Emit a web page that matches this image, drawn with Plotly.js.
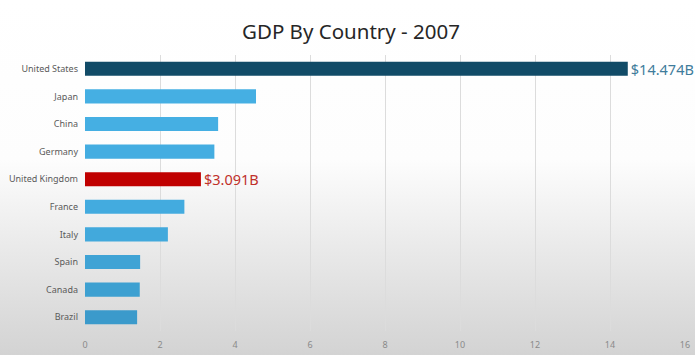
<!DOCTYPE html>
<html>
<head>
<meta charset="utf-8">
<script src="https://cdn.plot.ly/plotly-3.0.1.min.js"></script>
<style>
html,body{margin:0;padding:0;width:695px;height:355px;overflow:hidden;}
body{background:linear-gradient(to bottom,#ffffff 0%,#fdfdfd 45%,#e8e8e8 72%,#d3d3d3 100%);}
#chart{width:695px;height:355px;}
</style>
</head>
<body>
<div id="chart"></div>
<script>
const countries = ["United States","Japan","China","Germany","United Kingdom","France","Italy","Spain","Canada","Brazil"];
const gdpTrillions = [14.474, 4.56, 3.55, 3.45, 3.091, 2.65, 2.21, 1.47, 1.46, 1.39];
const valueLabels = ["$14.474B","","","","$3.091B","","","","",""];
const tickValues = [0,2,4,6,8,10,12,14,16];

const barColors = ["#114b67","#45afe3","#45afe3","#44ade1","#c00000","#43abdf","#42a9dc","#3fa3d5","#3da0d1","#3b9acb"];
const labelColors = ["#3f7c9b","#3f7c9b","#3f7c9b","#3f7c9b","#c0302a","#3f7c9b","#3f7c9b","#3f7c9b","#3f7c9b","#3f7c9b"];

const trace = {
  type: "bar",
  orientation: "h",
  y: countries,
  x: gdpTrillions,
  text: valueLabels,
  textposition: "outside",
  constraintext: "none",
  cliponaxis: false,
  textfont: {family: "Noto Sans, sans-serif", size: 14.5, color: labelColors},
  marker: {color: barColors},
  hoverinfo: "none"
};

const layout = {
  width: 695, height: 355,
  paper_bgcolor: "rgba(0,0,0,0)",
  plot_bgcolor: "rgba(0,0,0,0)",
  margin: {l: 85, r: 10, t: 55, b: 24},
  bargap: 0.49,
  showlegend: false,
  title: {
    text: "GDP By Country - 2007",
    x: 0.505, xanchor: "center",
    y: 0.91, yanchor: "middle",
    font: {family: "Noto Sans, sans-serif", size: 20.5, color: "#262626"}
  },
  xaxis: {
    range: [0, 16],
    tickvals: tickValues,
    ticktext: tickValues.map(String),
    showgrid: true, gridcolor: "#dcdcdc", gridwidth: 1,
    zeroline: false, showline: false,
    ticks: "", ticklen: 0, ticklabelstandoff: 7,
    tickfont: {family: "Noto Sans, sans-serif", size: 9, color: "#8a8a8a"},
    fixedrange: true
  },
  yaxis: {
    autorange: "reversed",
    showgrid: false, zeroline: false, showline: false,
    ticks: "", ticklabelstandoff: 6,
    tickfont: {family: "Noto Sans, sans-serif", size: 9, color: "#5a5a5a"},
    fixedrange: true
  }
};

Plotly.newPlot("chart", [trace], layout, {displayModeBar: false, staticPlot: true});
</script>
</body>
</html>
